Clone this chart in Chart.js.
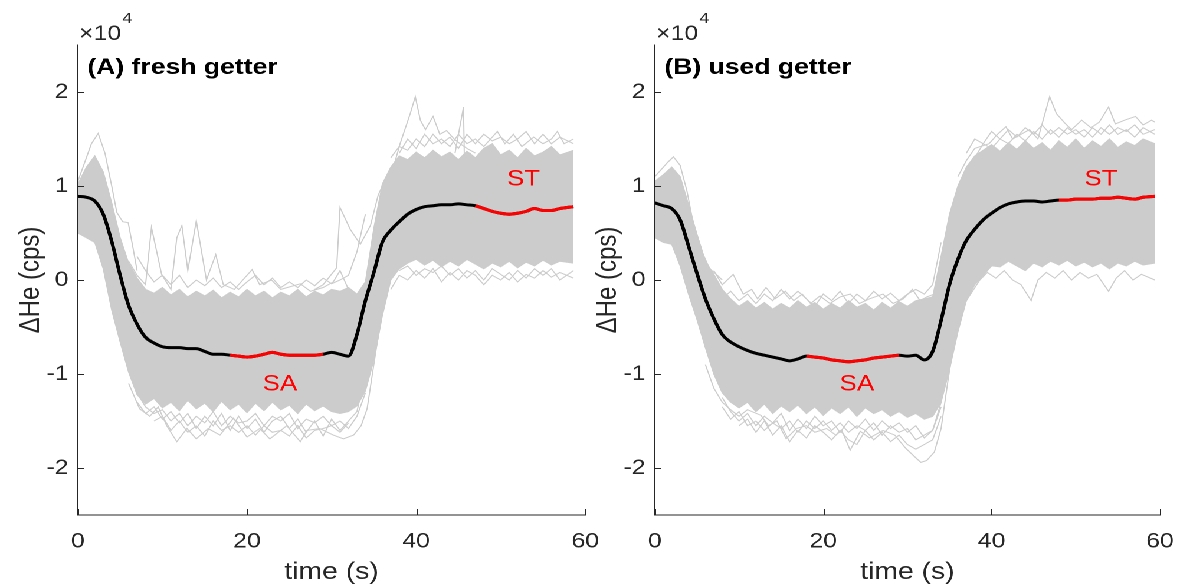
<!DOCTYPE html>
<html>
<head>
<meta charset="utf-8">
<title>Getter He response</title>
<script src="https://cdn.jsdelivr.net/npm/chart.js@4.4.0/dist/chart.umd.min.js"></script>
<style>
  html, body { margin: 0; padding: 0; background: #fff; width: 1179px; height: 588px; overflow: hidden; }
  /* the source figure is wider than tall by the same factor everywhere, so the
     whole drawing is laid out narrow and stretched once */
  #wrap { position: absolute; left: 0; top: 0; width: 1000px; height: 588px; overflow: hidden;
          transform: scaleX(1.18); transform-origin: 0 0; }
  .panel { position: absolute; top: 0; width: 530px; height: 588px; }
  #panelA { left: 0; }
  #panelB { left: 489px; }
</style>
</head>
<body>
<div id="wrap">
  <div class="panel" id="panelA"><canvas id="chartA" width="530" height="588"></canvas></div>
  <div class="panel" id="panelB"><canvas id="chartB" width="530" height="588"></canvas></div>
</div>
<script>
// all He values are in units of 10^4 cps (axis shows x10^4)

// ## axis ticks ##########################################################################
const X_TICKS = [0, 20, 40, 60];
const Y_TICKS = [-2, -1, 0, 1, 2];

// ## panel A : fresh getter ##########################################################################
const TIME_A = [0, 1, 2, 3, 4, 5, 6, 7, 8, 9, 10, 11, 12, 13, 14, 15, 16, 17, 18, 19,
  20, 21, 22, 23, 24, 25, 26, 27, 28, 29, 30, 31, 32, 33, 34, 35, 36, 37, 38, 39,
  40, 41, 42, 43, 44, 45, 46, 47, 48, 49, 50, 51, 52, 53, 54, 55, 56, 57, 58.6];

const MEAN_A = [0.89, 0.88, 0.84, 0.70, 0.41, 0.05, -0.27, -0.47, -0.61, -0.67,
  -0.71, -0.72, -0.72, -0.73, -0.73, -0.76, -0.79, -0.79, -0.80, -0.81,
  -0.82, -0.81, -0.79, -0.77, -0.79, -0.80, -0.80, -0.80, -0.80, -0.79,
  -0.77, -0.79, -0.81, -0.58, -0.22, 0.08, 0.40, 0.53, 0.62, 0.70,
  0.75, 0.78, 0.79, 0.80, 0.80, 0.81, 0.80, 0.79, 0.76, 0.73,
  0.71, 0.70, 0.71, 0.73, 0.76, 0.74, 0.74, 0.76, 0.78];

// dense part of the grey bundle (upper / lower edge)
const UPPER_A = [1.02, 1.20, 1.32, 1.15, 0.82, 0.45, 0.18, 0.02, -0.10, -0.14,
  -0.08, -0.16, -0.10, -0.18, -0.12, -0.17, -0.11, -0.19, -0.13, -0.18,
  -0.10, -0.17, -0.12, -0.19, -0.13, -0.17, -0.10, -0.18, -0.12, -0.16,
  -0.10, -0.12, -0.08, -0.15, -0.02, 0.55, 1.02, 1.20, 1.32, 1.28,
  1.36, 1.30, 1.38, 1.31, 1.36, 1.28, 1.37, 1.30, 1.40, 1.45,
  1.33, 1.38, 1.30, 1.40, 1.32, 1.36, 1.42, 1.33, 1.38];
const LOWER_A = [0.50, 0.45, 0.40, 0.12, -0.32, -0.66, -0.98, -1.22, -1.32, -1.26,
  -1.36, -1.30, -1.39, -1.28, -1.37, -1.31, -1.40, -1.29, -1.38, -1.32,
  -1.41, -1.31, -1.39, -1.30, -1.38, -1.33, -1.42, -1.32, -1.39, -1.34,
  -1.40, -1.42, -1.40, -1.34, -1.18, -0.85, -0.38, 0.00, 0.12, 0.18,
  0.22, 0.16, 0.21, 0.14, 0.20, 0.15, 0.22, 0.17, 0.12, 0.18,
  0.14, 0.20, 0.13, 0.19, 0.15, 0.21, 0.16, 0.20, 0.18];

// single runs sticking out of the bundle [t, value]
const A_RUN_1 = [[6, 0.2], [7, 0.05], [8, -0.05], [8.7, 0.56], [9.9, 0.06], [11, -0.1], [11.7, 0.45],
  [12.3, 0.58], [13, 0.1], [14, 0.63], [15.2, 0.0], [16.3, 0.27], [17.2, -0.05], [18.5, -0.1],
  [19.5, 0.0], [20.6, 0.11], [21.5, -0.05], [22.9, 0.0], [24, -0.1], [26.3, -0.04], [27.5, -0.12],
  [29, -0.08], [30.2, -0.02], [31, 0.1], [32, -0.1]];
const A_RUN_2 = [[28, -0.1], [29, -0.05], [30.6, 0.13], [31, 0.77], [32.2, 0.54], [33.4, 0.38],
  [34.6, 0.58], [35.5, 0.9], [36.5, 1.1], [37.5, 1.25]];
const A_RUN_3 = [[7, 0.25], [8, 0.1], [9, -0.02], [10, 0.05], [11, -0.05], [12, 0.05], [13, -0.08],
  [14, 0.0], [15, -0.06], [16, 0.02], [17, -0.08], [18, -0.02], [19, -0.1], [20, -0.02], [21, 0.05],
  [22, -0.05], [23, 0.02], [24, -0.08], [25, -0.02], [26, -0.08], [27, 0.0], [28, -0.06], [29, 0.02],
  [30, -0.04], [31, 0.0], [32, 0.05], [33, 0.3], [34, 0.7]];
const A_RUN_4 = [[0, 1.05], [1, 1.3], [1.6, 1.45], [2.4, 1.56], [3.2, 1.35], [4, 1.0], [4.6, 0.72],
  [5.3, 0.62], [5.95, 0.61], [6.5, 0.35], [7, 0.1]];
const A_RUN_5 = [[6, -1.1], [7.3, -1.37], [8.5, -1.45], [9.5, -1.35], [10.5, -1.55], [11.7, -1.72],
  [12.9, -1.58], [14, -1.69], [15.4, -1.58], [16.8, -1.65], [18.4, -1.47], [20, -1.67], [21.5, -1.58],
  [22.7, -1.69], [24.7, -1.55], [26.3, -1.72], [27.1, -1.6], [28.6, -1.58], [30.2, -1.65],
  [31.4, -1.69], [32.6, -1.65], [33.5, -1.55], [34.2, -1.37], [35.3, -0.72], [36.1, -0.3], [36.9, 0.0]];
const A_RUN_6 = [[7, -1.2], [8, -1.35], [9, -1.42], [10, -1.38], [11, -1.5], [12, -1.42], [13, -1.55],
  [14, -1.45], [15, -1.52], [16, -1.4], [17, -1.55], [18, -1.45], [19, -1.52], [20, -1.5], [21, -1.42],
  [22, -1.55], [23, -1.45], [24, -1.5], [25, -1.42], [26, -1.58], [27, -1.48], [28, -1.52],
  [29, -1.45], [30, -1.55], [31, -1.5], [32, -1.58], [33, -1.45], [34, -1.2]];
const A_RUN_7 = [[9, -1.5], [10, -1.45], [11, -1.6], [12, -1.5], [13, -1.62], [14, -1.55], [15, -1.66],
  [16, -1.5], [17, -1.6], [18, -1.55], [19, -1.62], [20, -1.55], [21, -1.65], [22, -1.55], [23, -1.62],
  [24, -1.6], [25, -1.66], [26, -1.55], [27, -1.68], [28, -1.6], [29, -1.58], [30, -1.55],
  [31, -1.62], [32, -1.52]];
const A_RUN_8 = [[37, 1.1], [38.1, 1.45], [39.3, 1.77], [39.9, 1.95], [40.5, 1.7], [41.1, 1.6], [42, 1.74],
  [42.8, 1.55], [43.6, 1.59], [44.5, 1.5], [45.2, 1.45], [46, 1.4], [47, 1.35]];
const A_RUN_9 = [[44.6, 1.35], [45.6, 1.84], [45.7, 1.3], [46.5, 1.35]];
const A_RUN_10 = [[38, 1.35], [39, 1.5], [40, 1.4], [41, 1.55], [42, 1.45], [43, 1.5], [44, 1.42],
  [45, 1.55], [46, 1.45], [47, 1.5], [48, 1.42], [49, 1.52], [49.6, 1.58], [50.5, 1.45], [51.5, 1.55],
  [52.5, 1.42], [53.9, 1.52], [55, 1.45], [56, 1.5], [56.7, 1.58], [57.5, 1.45], [58.6, 1.5]];
const A_RUN_11 = [[37, -0.1], [38, 0.05], [39, 0.0], [40, 0.1], [41, 0.02], [42, 0.12], [43, -0.02],
  [44, 0.08], [45, 0.0], [46, 0.1], [47, 0.05], [48, -0.05], [49, 0.05], [50, 0.0], [51, 0.08],
  [52, -0.02], [53, 0.06], [54, 0.02], [55, 0.1], [56, 0.03], [57, 0.08], [58.6, 0.02]];
const A_RUN_12 = [[7, -1.3], [8, -1.42], [9, -1.35], [10, -1.48], [11, -1.4], [12, -1.52], [13, -1.42],
  [14, -1.58], [15, -1.45], [16, -1.55], [17, -1.42], [18, -1.6], [19, -1.45], [20, -1.58], [21, -1.48],
  [22, -1.62], [23, -1.5], [24, -1.45], [25, -1.58], [26, -1.48], [27, -1.62], [28, -1.5], [29, -1.66],
  [30, -1.48], [31, -1.6], [32, -1.5], [33, -1.4], [34, -1.0]];
const A_RUN_13 = [[37, 1.3], [38, 1.42], [39, 1.38], [40, 1.5], [41, 1.42], [42, 1.55], [43, 1.45],
  [44, 1.52], [45, 1.4], [46, 1.55], [47, 1.45], [48, 1.55], [49, 1.48], [50, 1.52], [51, 1.45],
  [52, 1.5], [53, 1.58], [54, 1.45], [55, 1.55], [56, 1.45], [57, 1.52], [58.6, 1.45]];
const A_RUN_14 = [[38, 0.1], [39, 0.15], [40, 0.05], [41, 0.12], [42, 0.08], [43, 0.15], [44, 0.05],
  [45, 0.12], [46, 0.02], [47, 0.1], [48, 0.0], [49, 0.12], [50, 0.06], [51, 0.0], [52, 0.1],
  [53, 0.02], [54, 0.12], [55, 0.05], [56, 0.12], [57, 0.0], [58.6, 0.1]];

const SA_A = [18, 29];     // red "SA" stretch of the mean
const ST_A = [47, 58.6];   // red "ST" stretch of the mean

// ## panel B : used getter ##########################################################################
const TIME_B = [0, 1, 2, 3, 4, 5, 6, 7, 8, 9, 10, 11, 12, 13, 14, 15, 16, 17, 18, 19,
  20, 21, 22, 23, 24, 25, 26, 27, 28, 29, 30, 31, 32, 33, 34, 35, 36, 37, 38, 39,
  40, 41, 42, 43, 44, 45, 46, 47, 48, 49, 50, 51, 52, 53, 54, 55, 56, 57, 58, 59.4];

const MEAN_B = [0.82, 0.79, 0.76, 0.64, 0.36, 0.07, -0.20, -0.41, -0.58, -0.66,
  -0.71, -0.75, -0.78, -0.80, -0.82, -0.84, -0.86, -0.84, -0.81, -0.82,
  -0.83, -0.85, -0.86, -0.87, -0.86, -0.85, -0.83, -0.82, -0.81, -0.80,
  -0.81, -0.80, -0.85, -0.76, -0.43, -0.05, 0.22, 0.42, 0.54, 0.64,
  0.71, 0.77, 0.81, 0.83, 0.84, 0.84, 0.83, 0.84, 0.85, 0.85,
  0.86, 0.86, 0.86, 0.87, 0.87, 0.88, 0.87, 0.86, 0.88, 0.89];

const UPPER_B = [1.05, 1.12, 1.20, 1.10, 0.80, 0.48, 0.20, 0.06, -0.10, -0.20,
  -0.28, -0.22, -0.30, -0.24, -0.31, -0.25, -0.30, -0.22, -0.29, -0.24,
  -0.31, -0.25, -0.30, -0.22, -0.29, -0.25, -0.32, -0.24, -0.30, -0.23,
  -0.28, -0.22, -0.20, -0.18, 0.25, 0.70, 1.00, 1.20, 1.32, 1.38,
  1.44, 1.37, 1.46, 1.39, 1.48, 1.40, 1.46, 1.38, 1.48, 1.41,
  1.50, 1.40, 1.48, 1.42, 1.50, 1.41, 1.47, 1.43, 1.50, 1.45];
const LOWER_B = [0.45, 0.40, 0.38, 0.15, -0.15, -0.42, -0.72, -1.00, -1.20, -1.30,
  -1.36, -1.30, -1.40, -1.32, -1.42, -1.34, -1.40, -1.33, -1.42, -1.35,
  -1.44, -1.36, -1.42, -1.35, -1.45, -1.36, -1.42, -1.38, -1.45, -1.40,
  -1.46, -1.42, -1.48, -1.45, -1.30, -0.95, -0.55, -0.22, -0.05, 0.05,
  0.15, 0.14, 0.20, 0.15, 0.10, 0.18, 0.14, 0.20, 0.16, 0.21,
  0.15, 0.19, 0.14, 0.18, 0.12, 0.18, 0.15, 0.20, 0.16, 0.18];

const B_RUN_1 = [[7, 0.1], [8, -0.05], [9.3, 0.06], [10.5, -0.15], [11.5, -0.1], [12.2, -0.2], [13.2, -0.08],
  [14.3, -0.2], [15.5, -0.12], [16.5, -0.22], [17.5, -0.15], [18.5, -0.25], [19.6, -0.17], [20.8, -0.25],
  [22, -0.18], [23.2, -0.15], [24.3, -0.25], [25.5, -0.2], [27.1, -0.15], [28.3, -0.25], [29.5, -0.2],
  [30.6, -0.1], [31.5, -0.22], [32.3, -0.18], [33.2, -0.15]];
const B_RUN_2 = [[8, -0.2], [9, -0.12], [10, -0.22], [11, -0.15], [12, -0.25], [13, -0.15], [14, -0.22],
  [15, -0.1], [16, -0.2], [17, -0.12], [18, -0.2], [19, -0.28], [20, -0.15], [21, -0.22], [22, -0.12],
  [23, -0.25], [24, -0.15], [25, -0.22], [26, -0.12], [27, -0.2], [28, -0.14], [29, -0.22], [30, -0.15],
  [31, -0.1], [32, -0.15], [33, -0.05], [34, 0.4]];
const B_RUN_3 = [[0, 1.1], [1, 1.2], [1.5, 1.25], [2.2, 1.31], [3, 1.22], [3.8, 0.95], [4.5, 0.63],
  [5.7, 0.28], [6.5, 0.12], [7.3, 0.06], [8, 0.0]];
const B_RUN_4 = [[6, -0.9], [7, -1.15], [8, -1.3], [9, -1.38], [10, -1.45], [11, -1.38], [12.6, -1.44],
  [13.5, -1.55], [14.5, -1.5], [15.6, -1.69], [16.8, -1.58], [18, -1.55], [19, -1.62], [20.4, -1.58],
  [21.5, -1.65], [22.2, -1.6], [23.2, -1.81], [24.4, -1.61], [25.5, -1.68], [27.1, -1.6], [28.5, -1.65],
  [29.8, -1.79], [31.1, -1.9], [31.6, -1.94], [32.3, -1.92], [33.2, -1.83], [34, -1.58], [34.8, -1.08],
  [35.8, -0.51], [37, -0.22], [38.6, 0.0]];
const B_RUN_5 = [[8, -1.35], [9, -1.48], [10, -1.4], [11, -1.55], [12, -1.5], [13, -1.6], [14, -1.52],
  [15, -1.58], [16, -1.5], [17, -1.62], [18, -1.5], [19, -1.58], [20, -1.5], [21, -1.6], [22, -1.52],
  [23, -1.62], [24, -1.55], [25, -1.6], [26, -1.52], [27, -1.65], [28, -1.55], [29, -1.62], [30, -1.58],
  [31, -1.7], [32, -1.65], [33, -1.6], [34, -1.35]];
const B_RUN_6 = [[10, -1.55], [11, -1.48], [12, -1.62], [13, -1.5], [14, -1.65], [15, -1.55], [16, -1.72],
  [17, -1.6], [18, -1.68], [19, -1.55], [20, -1.62], [21, -1.7], [22, -1.6], [23, -1.7], [24, -1.75],
  [25, -1.6], [26, -1.7], [27, -1.62], [28, -1.72], [29, -1.65], [30, -1.75], [31, -1.8], [32, -1.75],
  [33, -1.7], [34, -1.45]];
const B_RUN_7 = [[36, 1.1], [37, 1.27], [38, 1.4], [39.7, 1.45], [40.7, 1.55], [41.7, 1.63], [42.5, 1.5],
  [43.5, 1.55], [44.5, 1.6], [45.5, 1.5], [46.9, 1.95], [47.7, 1.77], [48.7, 1.67], [49.5, 1.6],
  [50.7, 1.7], [51.8, 1.62], [52.8, 1.68], [53.9, 1.84], [54.7, 1.66], [55.8, 1.7], [57.1, 1.74],
  [58, 1.65], [59, 1.7], [59.4, 1.68]];
const B_RUN_8 = [[38, 1.3], [39, 1.45], [40, 1.4], [41, 1.5], [42, 1.45], [43, 1.55], [44, 1.48],
  [45, 1.58], [46, 1.5], [47, 1.6], [48, 1.52], [49, 1.62], [50, 1.55], [51, 1.6], [52, 1.52],
  [53, 1.62], [54, 1.55], [55, 1.62], [56, 1.58], [57, 1.65], [58, 1.55], [59.4, 1.6]];
const B_RUN_9 = [[38.6, 0.0], [39.5, 0.08], [40.5, 0.02], [41.5, 0.1], [42.5, 0.0], [43.5, -0.05],
  [44.7, -0.22], [45.5, 0.0], [46.5, 0.08], [47.5, 0.02], [48.5, 0.1], [49.5, 0.0], [50.5, 0.08],
  [51.5, 0.02], [52.5, 0.06], [53.9, -0.12], [54.8, 0.02], [55.8, 0.1], [56.8, 0.0], [57.8, 0.06],
  [59.4, 0.0]];
const B_RUN_10 = [[8, -1.25], [9, -1.4], [10, -1.5], [11, -1.42], [12, -1.55], [13, -1.45], [14, -1.52],
  [15, -1.42], [16, -1.6], [17, -1.48], [18, -1.58], [19, -1.45], [20, -1.55], [21, -1.5], [22, -1.62],
  [23, -1.5], [24, -1.58], [25, -1.48], [26, -1.6], [27, -1.5], [28, -1.58], [29, -1.52], [30, -1.62],
  [31, -1.55], [32, -1.68], [33, -1.6], [34, -1.3]];
const B_RUN_11 = [[37, 1.35], [38, 1.5], [39, 1.45], [40, 1.58], [41, 1.5], [42, 1.6], [43, 1.52],
  [44, 1.62], [45, 1.55], [46, 1.65], [47, 1.55], [48, 1.62], [49, 1.55], [50, 1.6], [51, 1.52],
  [52, 1.62], [53, 1.55], [54, 1.65], [55, 1.55], [56, 1.6], [57, 1.52], [58, 1.62], [59.4, 1.55]];

const SA_B = [18, 29];
const ST_B = [48, 59.4];

// ## look ##########################################################################
const FONT = '"Liberation Sans", Arial, Helvetica, sans-serif';
const AXIS_COLOR = '#262626';
const GREY = '#cccccc';
const RED = '#ff0000';

Chart.defaults.font.family = FONT;

// ## helpers ##########################################################################
function xy(times, vals) {
  return times.map((t, i) => ({ x: t, y: vals[i] }));
}
function fromPairs(list) {
  return list.map(([x, y]) => ({ x, y }));
}
function slice(times, vals, range) {
  return xy(times, vals).filter(p => p.x >= range[0] && p.x <= range[1]);
}

/** inward ticks, x10^4 note, panel title and SA / ST tags */
const decor = {
  id: 'decor',
  afterDraw(chart, args, opts) {
    const { ctx, chartArea: a, scales: { x, y } } = chart;
    ctx.save();
    ctx.strokeStyle = AXIS_COLOR;
    ctx.lineWidth = 1;
    ctx.beginPath();
    x.ticks.forEach(t => {
      const px = Math.round(x.getPixelForValue(t.value)) + 0.5;
      ctx.moveTo(px, a.bottom); ctx.lineTo(px, a.bottom - 6);
    });
    y.ticks.forEach(t => {
      const py = Math.round(y.getPixelForValue(t.value)) + 0.5;
      ctx.moveTo(a.left, py); ctx.lineTo(a.left + 5, py);
    });
    ctx.stroke();

    // exponent above the y axis
    ctx.fillStyle = AXIS_COLOR;
    ctx.textAlign = 'left';
    ctx.textBaseline = 'alphabetic';
    ctx.font = '21px ' + FONT;
    ctx.fillText('\u00d710', a.left + 1, a.top - 5);
    const w = ctx.measureText('\u00d710').width;
    ctx.font = '15px ' + FONT;
    ctx.fillText('4', a.left + 2 + w, a.top - 22);

    // panel title
    ctx.fillStyle = '#000';
    ctx.font = 'bold 22.5px ' + FONT;
    ctx.fillText(opts.title, a.left + 8, a.top + 29);

    // region tags
    ctx.fillStyle = RED;
    ctx.font = '22px ' + FONT;
    ctx.textAlign = 'center';
    ctx.textBaseline = 'middle';
    opts.tags.forEach(tg => ctx.fillText(tg.text, x.getPixelForValue(tg.t), y.getPixelForValue(tg.v)));
    ctx.restore();
  }
};

function greyLine(data) {
  return { data, borderColor: GREY, borderWidth: 1, pointRadius: 0, tension: 0, fill: false };
}

function panel(id, p) {
  const datasets = [
    { data: slice(p.time, p.mean, p.sa), borderColor: RED, borderWidth: 3, pointRadius: 0, cubicInterpolationMode: 'monotone' },
    { data: slice(p.time, p.mean, p.st), borderColor: RED, borderWidth: 3, pointRadius: 0, cubicInterpolationMode: 'monotone' },
    { data: xy(p.time, p.mean), borderColor: '#000', borderWidth: 3, pointRadius: 0, cubicInterpolationMode: 'monotone' },
    ...p.runs.map(r => greyLine(fromPairs(r))),
    { data: xy(p.time, p.upper), borderColor: GREY, borderWidth: 1, pointRadius: 0, tension: 0,
      fill: '+1', backgroundColor: GREY },
    greyLine(xy(p.time, p.lower))
  ];

  return new Chart(document.getElementById(id), {
    type: 'line',
    data: { datasets },
    plugins: [decor],
    options: {
      responsive: false,
      devicePixelRatio: 2,
      animation: false,
      events: [],
      layout: { padding: { top: 45, right: p.padRight, bottom: 0, left: 0 } },
      plugins: {
        legend: { display: false },
        tooltip: { enabled: false },
        decor: { title: p.title, tags: p.tags }
      },
      scales: {
        x: {
          type: 'linear', min: 0, max: 60,
          afterBuildTicks: s => { s.ticks = X_TICKS.map(v => ({ value: v })); },
          afterFit: s => { s.height = 73; },
          grid: { display: false, drawTicks: false },
          border: { display: true, color: AXIS_COLOR, width: 1 },
          ticks: { color: AXIS_COLOR, font: { size: 21 }, padding: 14, maxRotation: 0 },
          title: { display: true, text: 'time (s)', color: AXIS_COLOR, font: { size: 24 }, padding: { top: 0, bottom: 1 } }
        },
        y: {
          type: 'linear', min: -2.5, max: 2.5,
          afterBuildTicks: s => { s.ticks = Y_TICKS.map(v => ({ value: v })); },
          afterFit: s => { s.width = 66; },
          grid: { display: false, drawTicks: false },
          border: { display: true, color: AXIS_COLOR, width: 1 },
          ticks: { color: AXIS_COLOR, font: { size: 21 }, padding: 8, callback: v => String(v) },
          title: { display: true, text: '\u0394He (cps)', color: AXIS_COLOR, font: { size: 24 }, padding: { top: 12, bottom: 0 } }
        }
      }
    }
  });
}

// ## build ##########################################################################
panel('chartA', {
  title: '(A) fresh getter',
  time: TIME_A, mean: MEAN_A, upper: UPPER_A, lower: LOWER_A,
  runs: [A_RUN_1, A_RUN_2, A_RUN_3, A_RUN_4, A_RUN_5, A_RUN_6, A_RUN_7, A_RUN_8, A_RUN_9, A_RUN_10,
    A_RUN_11, A_RUN_12, A_RUN_13, A_RUN_14],
  sa: SA_A, st: ST_A,
  tags: [{ text: 'SA', t: 23.9, v: -1.11 }, { text: 'ST', t: 52.7, v: 1.07 }],
  padRight: 34
});

panel('chartB', {
  title: '(B) used getter',
  time: TIME_B, mean: MEAN_B, upper: UPPER_B, lower: LOWER_B,
  runs: [B_RUN_1, B_RUN_2, B_RUN_3, B_RUN_4, B_RUN_5, B_RUN_6, B_RUN_7, B_RUN_8, B_RUN_9,
    B_RUN_10, B_RUN_11],
  sa: SA_B, st: ST_B,
  tags: [{ text: 'SA', t: 24.0, v: -1.11 }, { text: 'ST', t: 53.0, v: 1.07 }],
  padRight: 36
});
</script>
</body>
</html>
